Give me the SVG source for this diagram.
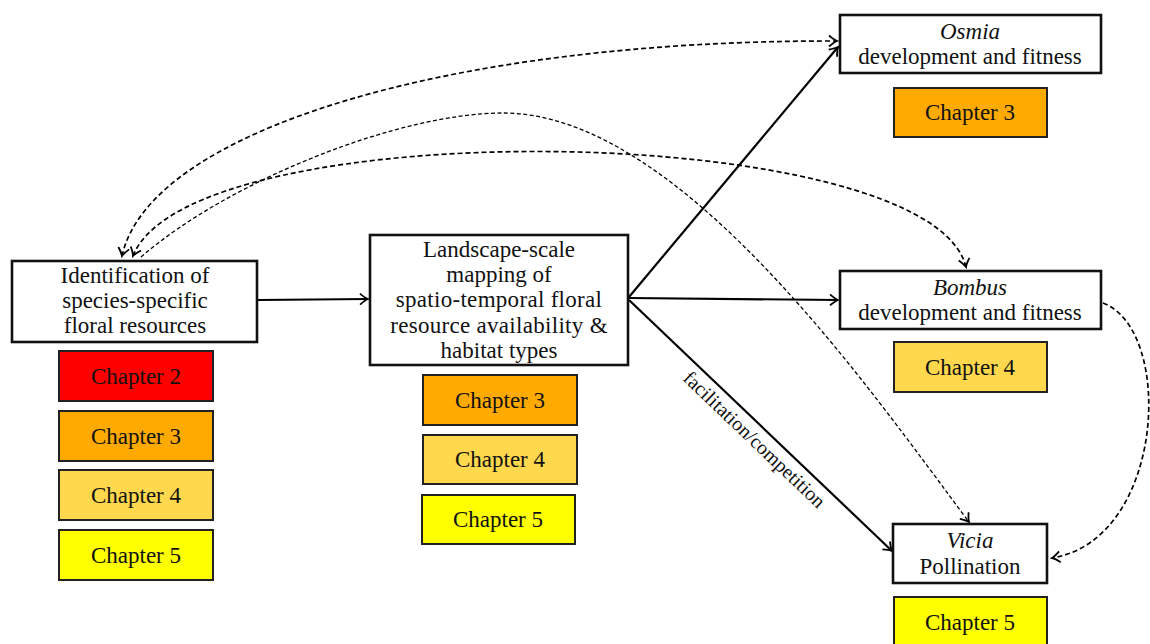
<svg xmlns="http://www.w3.org/2000/svg" width="1150" height="644" viewBox="0 0 1150 644">
<style>
text{font-family:"Liberation Serif","Times New Roman",serif;font-size:23px;fill:#111;text-anchor:middle}
.it{font-style:italic}
.box{fill:#fff;stroke:#111;stroke-width:2.6}
.ch{stroke:#222;stroke-width:2}
.solid{fill:none;stroke:#000;stroke-width:2.2}
.dash{fill:none;stroke:#000;stroke-width:1.7;stroke-dasharray:5 3}
.dash2{fill:none;stroke:#000;stroke-width:1.3;stroke-dasharray:4 2.5}
.lbl{font-size:20px}
</style>
<defs>
<marker id="ah" viewBox="-10 -7 12 14" refX="0" refY="0" markerWidth="12" markerHeight="14" markerUnits="userSpaceOnUse" orient="auto-start-reverse">
<path d="M-8,-5.5 Q-3,-1.2 0,0 Q-3,1.2 -8,5.5" fill="none" stroke="#000" stroke-width="1.8" stroke-dasharray="none"/>
</marker>
</defs>

<g id="connectors">
<path class="dash" d="M122,256 C150,130 450,40 837,41" marker-start="url(#ah)" marker-end="url(#ah)"/>
<path class="dash" d="M133,256 C190,110 930,120 966,267" marker-start="url(#ah)" marker-end="url(#ah)"/>
<path class="dash2" d="M141,257 C230,180 400,113 503,113 C680,113 870,390 969,522" marker-end="url(#ah)"/>
<path class="dash" d="M1103,303 C1175,330 1165,540 1052,558" marker-end="url(#ah)"/>
<path class="solid" d="M258,300 L368,299" marker-end="url(#ah)"/>
<path class="solid" d="M629,297 L838,47" marker-end="url(#ah)"/>
<path class="solid" d="M629,298 L838,300" marker-end="url(#ah)"/>
<path class="solid" d="M629,300 L892,551" marker-end="url(#ah)"/>
<text class="lbl" transform="translate(754,440) rotate(43.6)" dy="6">facilitation/competition</text>
</g>

<g id="identification">
<rect class="box" x="12" y="261" width="245" height="81"/>
<text x="135" y="283">Identification of</text>
<text x="135" y="308">species-specific</text>
<text x="135" y="333">floral resources</text>
</g>
<g id="id-chapters">
<rect class="ch" x="59" y="351" width="154" height="50" fill="#FF0000"/>
<text x="136" y="384">Chapter 2</text>
<rect class="ch" x="59" y="411" width="154" height="50" fill="#FFAA00"/>
<text x="136" y="444">Chapter 3</text>
<rect class="ch" x="59" y="470" width="154" height="50" fill="#FFD84E"/>
<text x="136" y="503">Chapter 4</text>
<rect class="ch" x="59" y="530" width="154" height="50" fill="#FFFF00"/>
<text x="136" y="563">Chapter 5</text>
</g>

<g id="landscape">
<rect class="box" x="370" y="235" width="258" height="130"/>
<text x="499" y="257">Landscape-scale</text>
<text x="499" y="282">mapping of</text>
<text x="499" y="307" letter-spacing="0.3">spatio-temporal floral</text>
<text x="499" y="333" letter-spacing="0.3">resource availability &amp;</text>
<text x="499" y="358">habitat types</text>
</g>
<g id="landscape-chapters">
<rect class="ch" x="423" y="375" width="154" height="50" fill="#FFAA00"/>
<text x="500" y="408">Chapter 3</text>
<rect class="ch" x="423" y="435" width="154" height="49" fill="#FFD84E"/>
<text x="500" y="467">Chapter 4</text>
<rect class="ch" x="422" y="495" width="153" height="49" fill="#FFFF00"/>
<text x="498" y="527">Chapter 5</text>
</g>

<g id="osmia">
<rect class="box" x="840" y="15" width="261" height="58"/>
<text class="it" x="970" y="39">Osmia</text>
<text x="970" y="64">development and fitness</text>
</g>
<g id="osmia-chapter">
<rect class="ch" x="894" y="88" width="153" height="49" fill="#FFAA00"/>
<text x="970" y="120">Chapter 3</text>
</g>

<g id="bombus">
<rect class="box" x="840" y="271" width="261" height="58"/>
<text class="it" x="970" y="295">Bombus</text>
<text x="970" y="320">development and fitness</text>
</g>
<g id="bombus-chapter">
<rect class="ch" x="894" y="342" width="153" height="50" fill="#FFD84E"/>
<text x="970" y="375">Chapter 4</text>
</g>

<g id="vicia">
<rect class="box" x="893" y="524" width="154" height="59"/>
<text class="it" x="970" y="548">Vicia</text>
<text x="970" y="574">Pollination</text>
</g>
<g id="vicia-chapter">
<rect class="ch" x="894" y="597" width="153" height="50" fill="#FFFF00"/>
<text x="970" y="630">Chapter 5</text>
</g>
</svg>
